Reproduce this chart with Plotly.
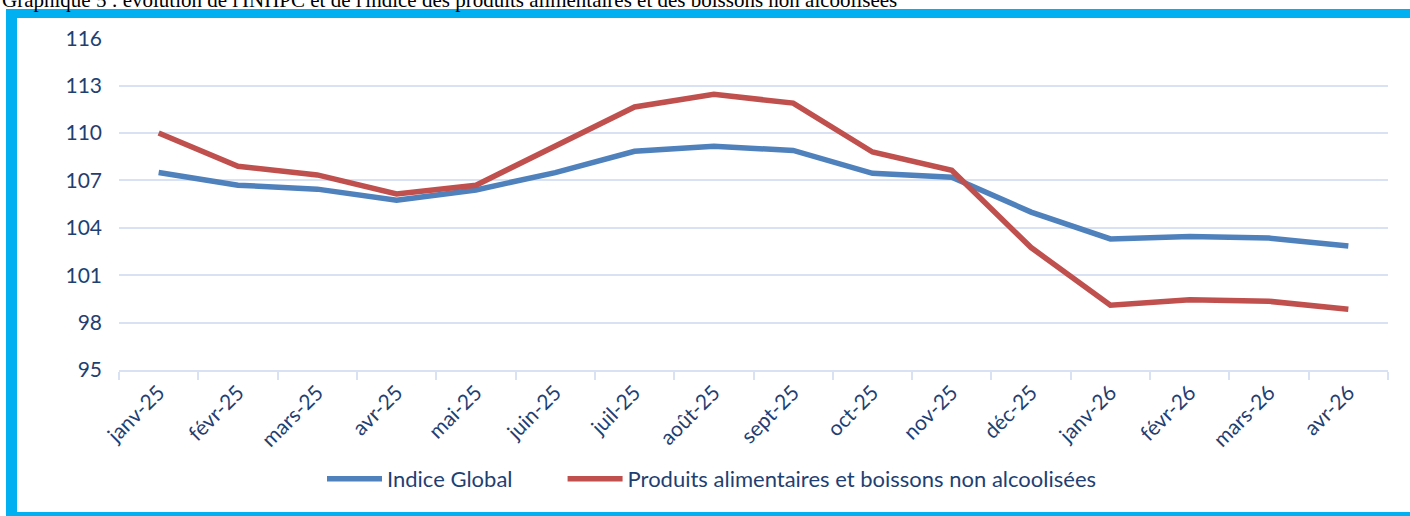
import plotly.graph_objects as go

months = ["janv-25", "févr-25", "mars-25", "avr-25", "mai-25", "juin-25", "juil-25", "août-25",
          "sept-25", "oct-25", "nov-25", "déc-25", "janv-26", "févr-26", "mars-26", "avr-26"]
indice_global = [107.5, 106.7, 106.45, 105.75, 106.4, 107.5, 108.85, 109.17,
                 108.9, 107.45, 107.2, 105.0, 103.3, 103.45, 103.35, 102.85]
produits_alim = [110.0, 107.9, 107.35, 106.15, 106.7, 109.15, 111.65, 112.45,
                 111.9, 108.8, 107.65, 102.75, 99.1, 99.45, 99.35, 98.85]
y_ticks = [95, 98, 101, 104, 107, 110, 113, 116]
series_names = ["Indice Global", "Produits alimentaires et boissons non alcoolisées"]

W, H = 1410, 516
L, R, T, B = 119, 22, 38, 146
PW, PH = W - L - R, H - T - B

def px(x):
    return (x - L) / PW

def py(y):
    return (H - B - y) / PH

TXT = "#1F3F73"
FONT = "Lato"
PAD = "\u00a0" * 8

fig = go.Figure()
fig.add_trace(go.Scatter(x=months, y=indice_global, mode="lines", name=series_names[0] + PAD,
                         line=dict(color="#4F81BD", width=5.5)))
fig.add_trace(go.Scatter(x=months, y=produits_alim, mode="lines", name=series_names[1],
                         line=dict(color="#C0504D", width=5.5)))

frame = "#00B0F0"
shapes = [
    dict(type="rect", xref="paper", yref="paper", x0=px(6), x1=px(1412), y0=py(9), y1=py(18),
         fillcolor=frame, line=dict(width=0), layer="above"),
    dict(type="rect", xref="paper", yref="paper", x0=px(6), x1=px(17), y0=py(9), y1=py(518),
         fillcolor=frame, line=dict(width=0), layer="above"),
    dict(type="rect", xref="paper", yref="paper", x0=px(6), x1=px(1412), y0=py(512), y1=py(518),
         fillcolor=frame, line=dict(width=0), layer="above"),
]

fig.update_layout(
    width=W, height=H,
    margin=dict(l=L, r=R, t=T, b=B, autoexpand=False),
    paper_bgcolor="white", plot_bgcolor="white",
    font=dict(family=FONT, color=TXT, size=21),
    showlegend=True,
    legend=dict(orientation="h", x=px(322), xanchor="left", y=py(479), yanchor="middle",
                font=dict(family=FONT, size=22, color=TXT), itemwidth=55,
                bgcolor="rgba(0,0,0,0)"),
    shapes=shapes,
    annotations=[dict(text="Graphique 5 : évolution de l'INHPC et de l'indice des produits alimentaires et des boissons non alcoolisées",
                      xref="paper", yref="paper", x=px(0), y=py(0), xanchor="left", yanchor="middle",
                      showarrow=False, font=dict(family="Liberation Serif", size=21, color="black"))],
)
fig.update_xaxes(type="category", range=[-0.5, 15.5], showgrid=False,
                 showline=True, linecolor="#D9E2F3", linewidth=2,
                 ticks="outside", tickson="boundaries", ticklen=8, tickcolor="#D9E2F3", tickwidth=2,
                 tickangle=-45, tickfont=dict(family=FONT, size=21, color=TXT))
fig.update_yaxes(range=[95, 116.02], tickvals=y_ticks, showgrid=True, gridcolor="#D9E2F3", gridwidth=2,
                 zeroline=False, showline=False, ticks="", ticklabelstandoff=16,
                 tickfont=dict(family=FONT, size=21, color=TXT))

fig.write_html("out.html", config={"displayModeBar": False},
               post_script="document.body.style.margin='0';")
